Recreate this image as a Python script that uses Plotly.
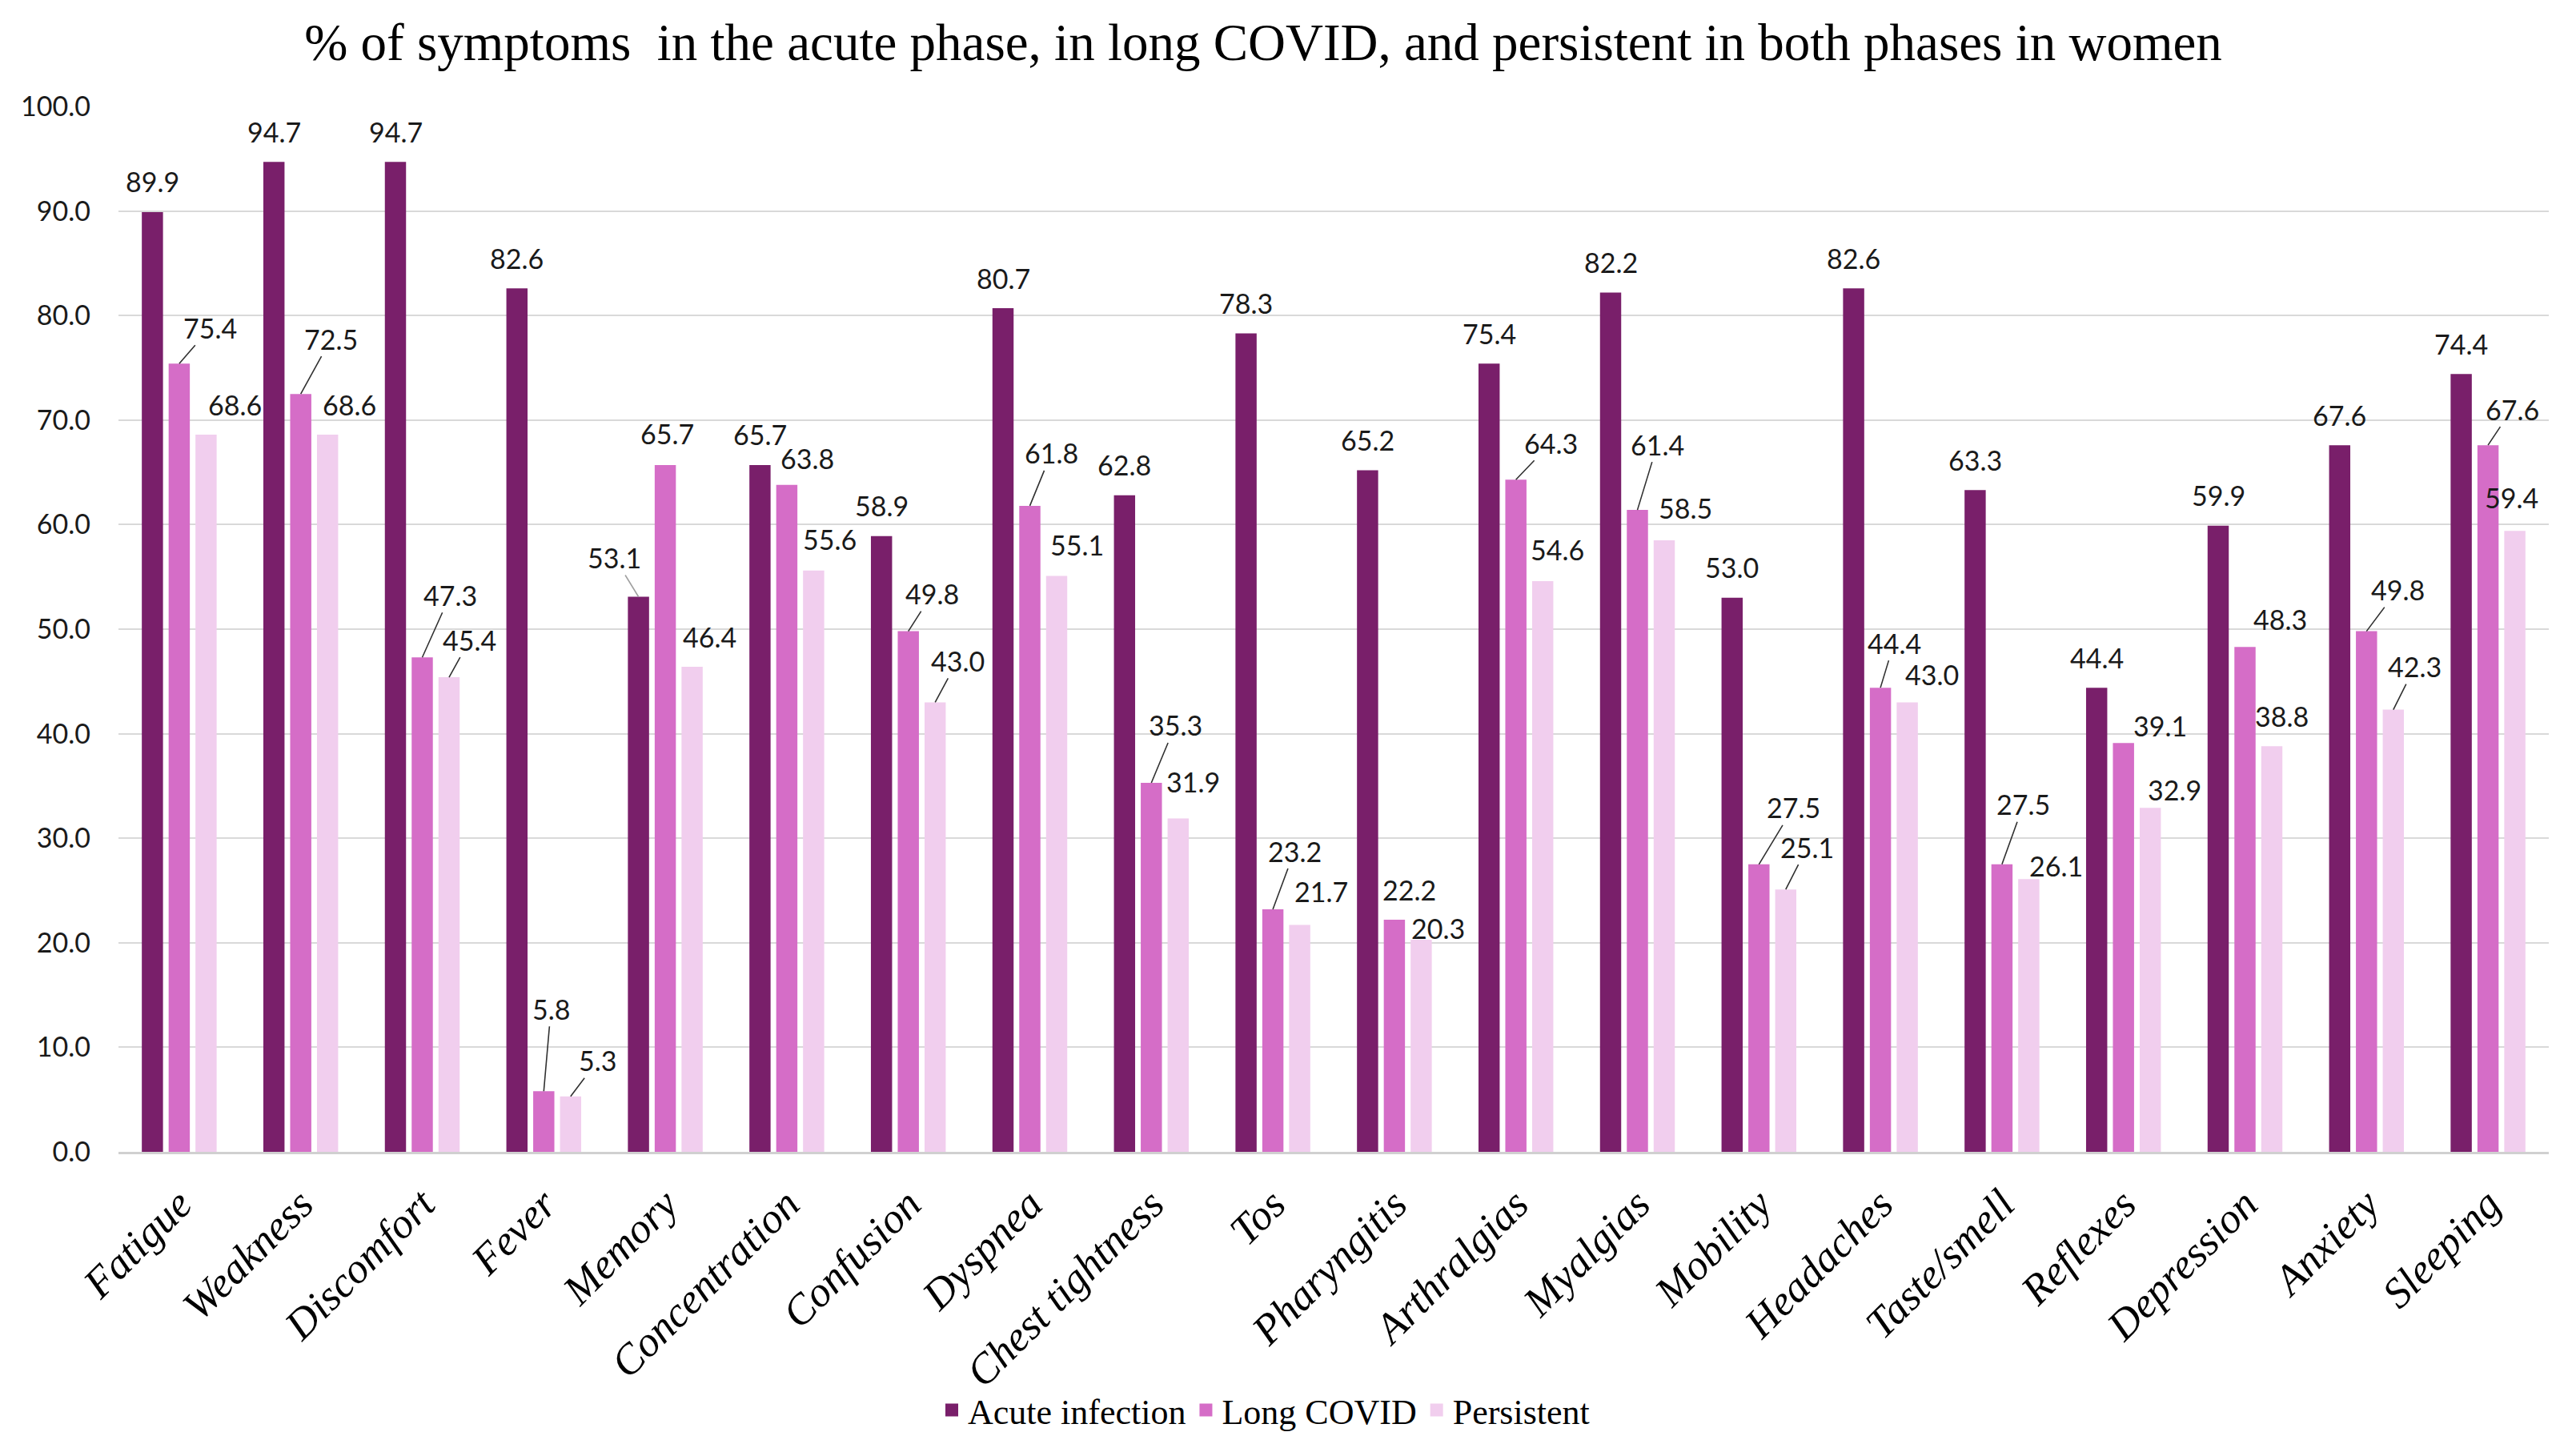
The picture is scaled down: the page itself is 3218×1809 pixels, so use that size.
import plotly.graph_objects as go

# ---------------- data ----------------
categories = ["Fatigue", "Weakness", "Discomfort", "Fever", "Memory", "Concentration",
              "Confusion", "Dyspnea", "Chest tightness", "Tos", "Pharyngitis",
              "Arthralgias", "Myalgias", "Mobility", "Headaches", "Taste/smell",
              "Reflexes", "Depression", "Anxiety", "Sleeping"]
acute = [89.9, 94.7, 94.7, 82.6, 53.1, 65.7, 58.9, 80.7, 62.8, 78.3,
         65.2, 75.4, 82.2, 53.0, 82.6, 63.3, 44.4, 59.9, 67.6, 74.4]
long_covid = [75.4, 72.5, 47.3, 5.8, 65.7, 63.8, 49.8, 61.8, 35.3, 23.2,
              22.2, 64.3, 61.4, 27.5, 44.4, 27.5, 39.1, 48.3, 49.8, 67.6]
persistent = [68.6, 68.6, 45.4, 5.3, 46.4, 55.6, 43.0, 55.1, 31.9, 21.7,
              20.3, 54.6, 58.5, 25.1, 43.0, 26.1, 32.9, 38.8, 42.3, 59.4]
series_names = ["Acute infection", "Long COVID", "Persistent"]
y_tick_values = [0, 10, 20, 30, 40, 50, 60, 70, 80, 90, 100]
title_text = "% of symptoms\u00a0 in the acute phase, in long COVID, and persistent in both phases in women"

# ---------------- label placement (pixel offsets from bar top: dx, dy, leader line) ----------------
acute_label_pos = [(0, -38, False)] * 20
acute_label_pos = list(acute_label_pos)
acute_label_pos[4] = (-30, -49, True)
long_label_pos = [(39, -45, True), (38, -69, True), (35, -78, True), (9, -103, True),
                  (2, -39, False), (26, -33, False), (30, -47, True), (27, -66, True),
                  (30, -72, True), (27, -73, True), (19, -38, False), (44, -46, True),
                  (25, -82, True), (43, -71, True), (17, -56, True), (27, -75, True),
                  (46, -22, False), (44, -35, False), (39, -52, True), (30, -45, True)]
pers_label_pos = [(36, -38, False), (27, -38, False), (26, -47, True), (34, -45, True),
                  (22, -38, False), (20, -39, False), (28, -52, True), (26, -39, False),
                  (19, -46, False), (27, -42, False), (21, -14, False), (18, -39, False),
                  (27, -40, False), (27, -53, True), (31, -35, False), (34, -17, False),
                  (30, -23, False), (13, -38, False), (27, -54, True), (-4, -42, False)]

# ---------------- style ----------------
W, H = 3218, 1809
ML, MR, MT, MB = 148, 34, 133, 370
BARGAP, BARGROUPGAP = 0.338, 0.21
colors = ["#791F6A", "#D56DC7", "#F1CEEE"]
LABEL_FONT = dict(family="Lato, Carlito, Calibri, sans-serif", size=34, color="#1A1A1A")
SERIF = "Liberation Serif, Times New Roman, serif"

fig = go.Figure()
all_series = [acute, long_covid, persistent]
for name, vals, col in zip(series_names, all_series, colors):
    fig.add_trace(go.Bar(x=categories, y=vals, name=name, marker=dict(color=col, line=dict(width=0)),
                         showlegend=False, hoverinfo="x+y"))
# legend entries (larger squares)
for name, col in zip(series_names, colors):
    fig.add_trace(go.Scatter(x=[None], y=[None], mode="markers", name=name,
                             marker=dict(symbol="square", size=30, color=col)))

cat_w = (W - ML - MR) / len(categories)
slot = (1 - BARGAP) * cat_w / 3
bar_shift = [-slot, 0, slot]

annotations = []
positions = [acute_label_pos, long_label_pos, pers_label_pos]
for s, vals in enumerate(all_series):
    for i, v in enumerate(vals):
        dx, dy, leader = positions[s][i]
        txt = f"{v:.1f}"
        if leader:
            annotations.append(dict(x=categories[i], y=v, xref="x", yref="y", text=txt,
                                    showarrow=True, arrowhead=0, arrowwidth=1.6,
                                    arrowcolor="#A0A0A0" if s == 0 else "#303030",
                                    standoff=0, ax=dx, ay=dy, xshift=bar_shift[s],
                                    font=LABEL_FONT))
        else:
            annotations.append(dict(x=categories[i], y=v, xref="x", yref="y", text=txt,
                                    showarrow=False, xanchor="center", yanchor="middle",
                                    xshift=bar_shift[s] + dx, yshift=-dy, font=LABEL_FONT))

fig.update_layout(
    template="none",
    width=W, height=H, autosize=False,
    paper_bgcolor="white", plot_bgcolor="white",
    margin=dict(l=ML, r=MR, t=MT, b=MB, pad=0),
    barmode="group", bargap=BARGAP, bargroupgap=BARGROUPGAP,
    title=dict(text=title_text, x=1578 / W, xref="container", xanchor="center",
               y=1 - 52 / H, yref="container", yanchor="middle",
               font=dict(family=SERIF, size=65, color="#000000")),
    legend=dict(orientation="h", x=1580 / W, xref="container", xanchor="center",
                y=1 - 1762 / H, yref="container", yanchor="middle",
                font=dict(family=SERIF, size=44, color="#000000"),
                itemwidth=30, bgcolor="rgba(0,0,0,0)"),
    annotations=annotations,
)
fig.update_xaxes(type="category", categoryorder="array", categoryarray=categories,
                 tickangle=-45, showgrid=False, showline=True, linecolor="#D0D0D0", linewidth=3,
                 ticks="", automargin=False, ticklabelstandoff=10,
                 tickfont=dict(family=SERIF, size=53, color="#000000", style="italic"))
fig.update_yaxes(range=[0, 100], tickvals=y_tick_values, tickformat=".1f",
                 showgrid=True, gridcolor="#D9D9D9", gridwidth=2, zeroline=False,
                 showline=False, ticks="", automargin=False, ticklabelstandoff=34,
                 tickfont=dict(family="Lato, Carlito, Calibri, sans-serif", size=34, color="#1A1A1A"))

fig.write_html("out.html", config={"displayModeBar": False},
               post_script="document.body.style.margin='0px';")
